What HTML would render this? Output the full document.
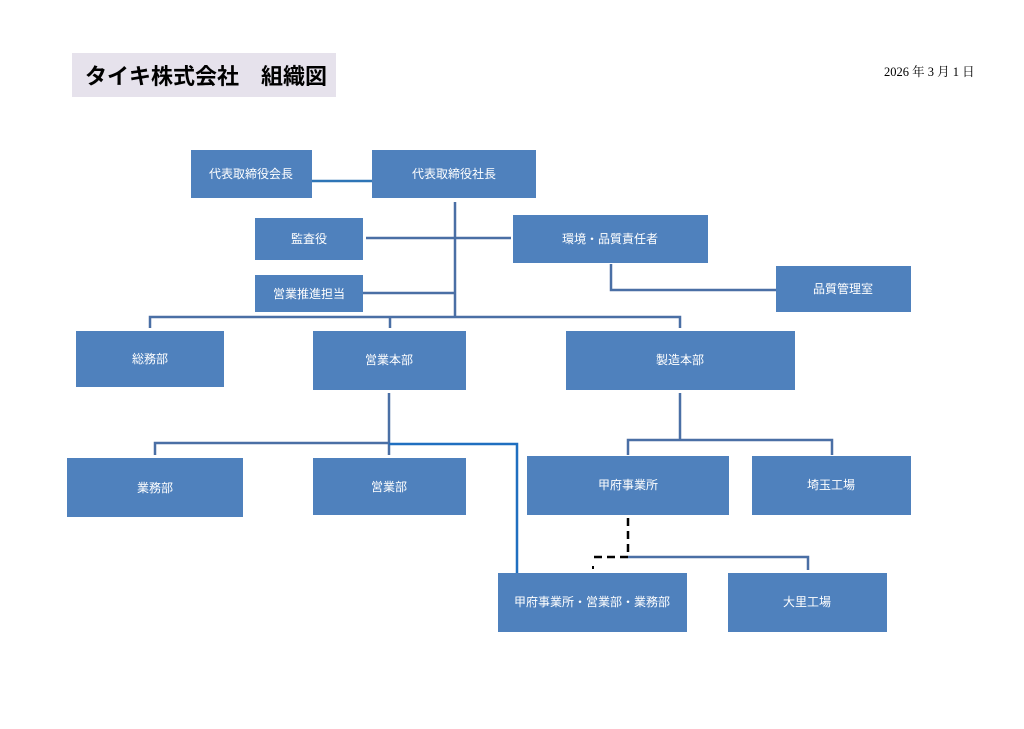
<!DOCTYPE html>
<html><head><meta charset="utf-8"><style>
body{margin:0;background:#fff;width:1024px;height:724px;overflow:hidden}
svg text{font-family:"Liberation Sans","Noto Sans CJK JP",sans-serif}
</style></head><body>
<svg width="1024" height="724" viewBox="0 0 1024 724">
<rect x="72" y="53" width="264" height="44" fill="#e6e2ec"/>
<text x="85" y="84" font-size="22" font-weight="bold" fill="#000">タイキ株式会社　組織図</text>
<text x="884" y="76" font-size="12.5" style="font-family:'Liberation Serif','Noto Serif CJK SC',serif">2026 年 3 月 1 日</text>
<g stroke="#4a6fa5" stroke-width="2.5" fill="none">
<line x1="312" y1="181" x2="372" y2="181" stroke="#2e75b6"/>
<line x1="455" y1="202" x2="455" y2="318"/>
<line x1="366" y1="238" x2="511" y2="238"/>
<polyline points="611,264 611,290 776,290"/>
<line x1="363" y1="293" x2="455" y2="293"/>
<polyline points="150,328 150,317 680,317 680,328"/>
<line x1="390" y1="317" x2="390" y2="328"/>
<line x1="389" y1="393" x2="389" y2="443"/>
<polyline points="155,455 155,443 389,443"/>
<line x1="389" y1="443" x2="389" y2="455"/>
<polyline points="389,444 517,444 517,580" stroke="#1f6fc0"/>
<line x1="680" y1="393" x2="680" y2="440"/>
<polyline points="628,455 628,440 832,440 832,455"/>
<polyline points="628,557 808,557 808,570"/>
</g>
<g stroke="#000" stroke-width="2.5" fill="none" stroke-dasharray="8,5">
<line x1="628" y1="518" x2="628" y2="557"/>
<line x1="628" y1="557" x2="592" y2="557"/>
</g>
<rect x="592" y="566" width="2" height="3" fill="#000"/>
<g fill="#4f81bd">
<rect x="191" y="150" width="121" height="48"/>
<rect x="372" y="150" width="164" height="48"/>
<rect x="255" y="218" width="108" height="42"/>
<rect x="513" y="215" width="195" height="48"/>
<rect x="776" y="266" width="135" height="46"/>
<rect x="255" y="275" width="108" height="37"/>
<rect x="76" y="331" width="148" height="56"/>
<rect x="313" y="331" width="153" height="59"/>
<rect x="566" y="331" width="229" height="59"/>
<rect x="67" y="458" width="176" height="59"/>
<rect x="313" y="458" width="153" height="57"/>
<rect x="527" y="456" width="202" height="59"/>
<rect x="752" y="456" width="159" height="59"/>
<rect x="498" y="573" width="189" height="59"/>
<rect x="728" y="573" width="159" height="59"/>
</g>
<g fill="#fff" font-size="12" text-anchor="middle">
<text x="251" y="178">代表取締役会長</text>
<text x="454" y="178">代表取締役社長</text>
<text x="309" y="243">監査役</text>
<text x="610" y="243">環境・品質責任者</text>
<text x="843" y="293">品質管理室</text>
<text x="309" y="298">営業推進担当</text>
<text x="150" y="363">総務部</text>
<text x="389" y="364">営業本部</text>
<text x="680" y="364">製造本部</text>
<text x="155" y="492">業務部</text>
<text x="389" y="491">営業部</text>
<text x="628" y="489">甲府事業所</text>
<text x="831" y="489">埼玉工場</text>
<text x="592" y="606">甲府事業所・営業部・業務部</text>
<text x="807" y="606">大里工場</text>
</g>
</svg>
</body></html>
